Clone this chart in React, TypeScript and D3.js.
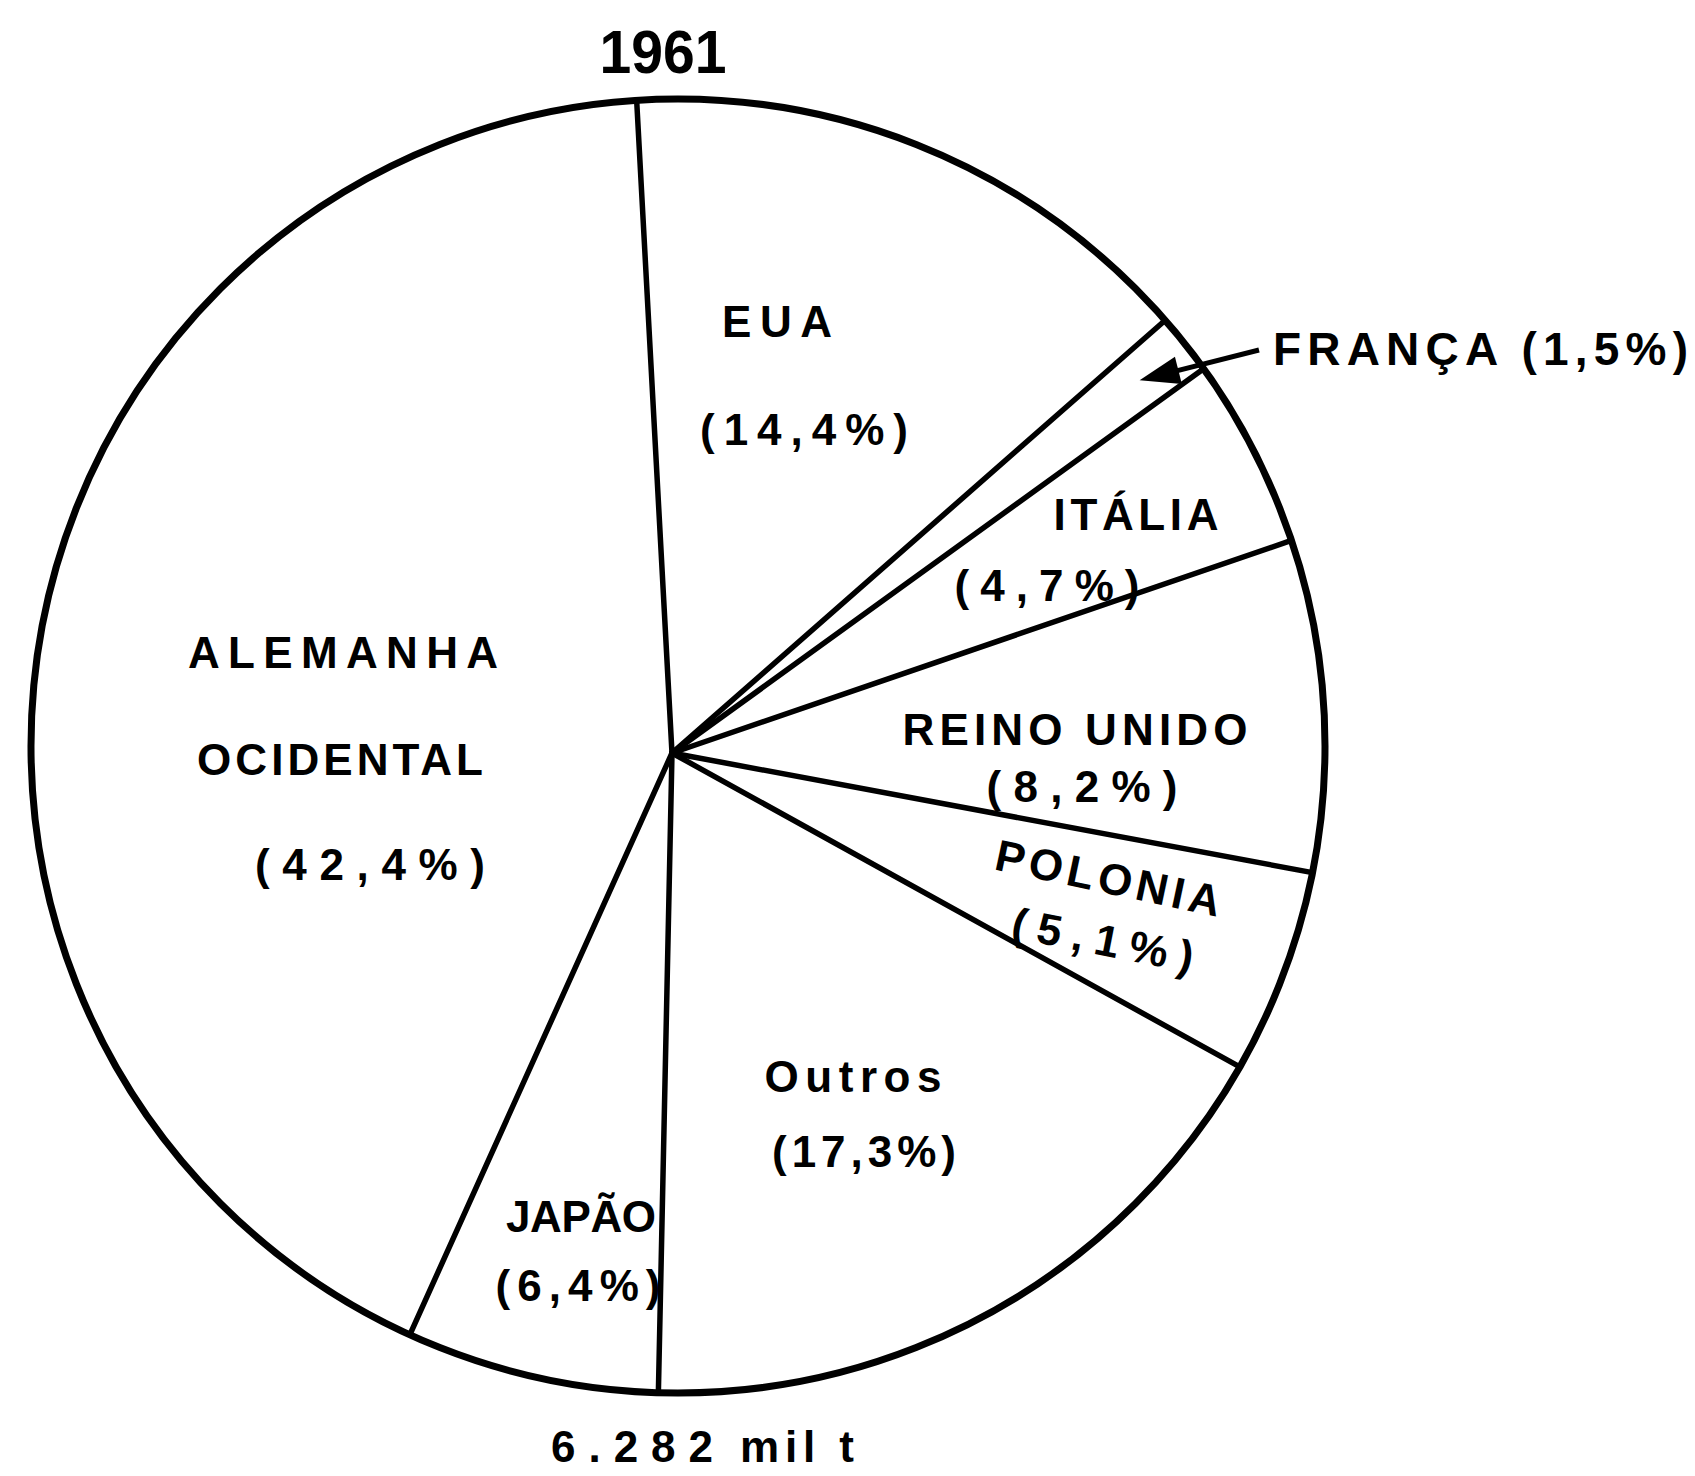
import React, { useRef, useEffect } from "react";
import * as d3 from "d3";

// 1961 - share of production by country
const categories = ["EUA", "FRANÇA", "ITÁLIA", "REINO UNIDO", "POLONIA", "Outros", "JAPÃO", "ALEMANHA OCIDENTAL"];
const shares = [14.4, 1.5, 4.7, 8.2, 5.1, 17.3, 6.4, 42.4];
const title = "1961";
const totalValue = "6.282";
const totalUnit = "mil t";

// label placement (baseline centre, forced text width, rotation)
const labelLines = [
  { cat: "EUA", text: "EUA", x: 777, y: 337, w: 110, rot: 0 },
  { cat: "EUA", pct: true, x: 804, y: 445, w: 208, rot: 0 },
  { cat: "ITÁLIA", text: "ITÁLIA", x: 1136, y: 530, w: 165, rot: 0 },
  { cat: "ITÁLIA", pct: true, x: 1047, y: 601, w: 185, rot: 0 },
  { cat: "REINO UNIDO", text: "REINO UNIDO", x: 1075, y: 745, w: 345, rot: 0 },
  { cat: "REINO UNIDO", pct: true, x: 1082, y: 802, w: 191, rot: 0 },
  { cat: "POLONIA", text: "POLONIA", x: 1105, y: 893, w: 229, rot: 12 },
  { cat: "POLONIA", pct: true, x: 1100, y: 955, w: 184, rot: 11 },
  { cat: "Outros", text: "Outros", x: 853, y: 1092, w: 177, rot: 0 },
  { cat: "Outros", pct: true, x: 864, y: 1167, w: 184, rot: 0 },
  { cat: "JAPÃO", text: "JAPÃO", x: 581, y: 1232, w: 150, rot: 0 },
  { cat: "JAPÃO", pct: true, x: 578, y: 1301, w: 165, rot: 0 },
  { cat: "ALEMANHA OCIDENTAL", text: "ALEMANHA", x: 343, y: 668, w: 310, rot: 0 },
  { cat: "ALEMANHA OCIDENTAL", text: "OCIDENTAL", x: 340, y: 775, w: 286, rot: 0 },
  { cat: "ALEMANHA OCIDENTAL", pct: true, x: 370, y: 880, w: 230, rot: 0 },
];

const fmtPct = (v) => `(${d3.format(".1f")(v).replace(".", ",")}%)`;

const PieChart = ({ width = 1695, height = 1476 }) => {
  const svgRef = useRef();

  useEffect(() => {
    // outline circle
    const cx = 678;
    const cy = 746;
    const r = 647;
    // point where the (hand drawn) radii meet
    const px = 672;
    const py = 753;
    const font = "'Liberation Sans', Arial, sans-serif";

    const svg = d3.select(svgRef.current)
      .attr("width", width)
      .attr("height", height);

    svg.selectAll("*").remove();

    svg.append("rect")
      .attr("width", width)
      .attr("height", height)
      .attr("fill", "#fff");

    const data = categories.map((c, i) => ({ cat: c, value: shares[i] }));

    const startDeg = -3.1;
    const pie = d3.pie()
      .sort(null)
      .value((d) => d.value)
      .startAngle((startDeg * Math.PI) / 180)
      .endAngle(((startDeg + 360) * Math.PI) / 180);

    const arcs = pie(data);
    const arc = d3.arc().innerRadius(0).outerRadius(r);

    const g = svg.append("g").attr("transform", `translate(${px},${py})`);

    g.selectAll(".slice")
      .data(arcs)
      .enter()
      .append("path")
      .attr("class", "slice")
      .attr("d", arc)
      .attr("fill", "#fff")
      .attr("stroke", "none");

    // slice boundaries: ray from meeting point to the outline
    const rayEnd = (a) => {
      const dx = Math.sin(a);
      const dy = -Math.cos(a);
      const ox = px - cx;
      const oy = py - cy;
      const b = ox * dx + oy * dy;
      const c = ox * ox + oy * oy - r * r;
      const t = -b + Math.sqrt(b * b - c);
      return [px + t * dx, py + t * dy];
    };

    svg.selectAll(".edge")
      .data(arcs)
      .enter()
      .append("line")
      .attr("class", "edge")
      .attr("x1", px)
      .attr("y1", py)
      .attr("x2", (d) => rayEnd(d.startAngle)[0])
      .attr("y2", (d) => rayEnd(d.startAngle)[1])
      .attr("stroke", "#000")
      .attr("stroke-width", 5.5)
      .attr("stroke-linecap", "round");

    svg.append("circle")
      .attr("cx", cx)
      .attr("cy", cy)
      .attr("r", r)
      .attr("fill", "none")
      .attr("stroke", "#000")
      .attr("stroke-width", 7);

    // labels
    const byCat = {};
    data.forEach((d) => (byCat[d.cat] = d.value));

    svg.selectAll(".lbl")
      .data(labelLines)
      .enter()
      .append("text")
      .attr("class", "lbl")
      .attr("transform", (d) => `translate(${d.x},${d.y}) rotate(${d.rot})`)
      .attr("text-anchor", "middle")
      .attr("font-family", font)
      .attr("font-weight", "bold")
      .attr("font-size", 44)
      .attr("textLength", (d) => d.w)
      .attr("lengthAdjust", "spacing")
      .attr("fill", "#000")
      .text((d) => (d.pct ? fmtPct(byCat[d.cat]) : d.text));

    // França callout
    const fr = arcs.find((a) => a.data.cat === "FRANÇA");
    const tip = d3.arc().innerRadius(598).outerRadius(598).centroid(fr);
    const tipX = px + tip[0];
    const tipY = py + tip[1];
    const lblX = 1273;
    const lblY = 365;
    const lineEnd = [lblX - 14, lblY - 15];
    const ang = Math.atan2(lineEnd[1] - tipY, lineEnd[0] - tipX);
    const headLen = 40;
    const headHalf = 14;
    const bx = tipX + headLen * Math.cos(ang);
    const by = tipY + headLen * Math.sin(ang);
    const nx = -Math.sin(ang) * headHalf;
    const ny = Math.cos(ang) * headHalf;

    svg.append("line")
      .attr("x1", bx - 4 * Math.cos(ang))
      .attr("y1", by - 4 * Math.sin(ang))
      .attr("x2", lineEnd[0])
      .attr("y2", lineEnd[1])
      .attr("stroke", "#000")
      .attr("stroke-width", 5);

    svg.append("path")
      .attr("d", `M${tipX},${tipY}L${bx + nx},${by + ny}L${bx - nx},${by - ny}Z`)
      .attr("fill", "#000");

    svg.append("text")
      .attr("x", lblX)
      .attr("y", lblY)
      .attr("font-family", font)
      .attr("font-weight", "bold")
      .attr("font-size", 46)
      .attr("textLength", 415)
      .attr("lengthAdjust", "spacing")
      .text(`${fr.data.cat} ${fmtPct(fr.data.value)}`);

    // title and total
    svg.append("text")
      .attr("x", 663)
      .attr("y", 73)
      .attr("text-anchor", "middle")
      .attr("font-family", font)
      .attr("font-weight", "bold")
      .attr("font-size", 62)
      .attr("textLength", 127)
      .attr("lengthAdjust", "spacingAndGlyphs")
      .text(title);

    svg.append("text")
      .attr("x", 551)
      .attr("y", 1462)
      .attr("font-family", font)
      .attr("font-weight", "bold")
      .attr("font-size", 44)
      .attr("textLength", 162)
      .attr("lengthAdjust", "spacing")
      .text(totalValue);

    svg.append("text")
      .attr("x", 740)
      .attr("y", 1462)
      .attr("font-family", font)
      .attr("font-weight", "bold")
      .attr("font-size", 44)
      .attr("textLength", 114)
      .attr("lengthAdjust", "spacing")
      .text(totalUnit);
  }, [width, height]);

  return <svg ref={svgRef} style={{ position: "absolute", left: 0, top: 0 }}></svg>;
};

export default function App() {
  return <PieChart />;
}
